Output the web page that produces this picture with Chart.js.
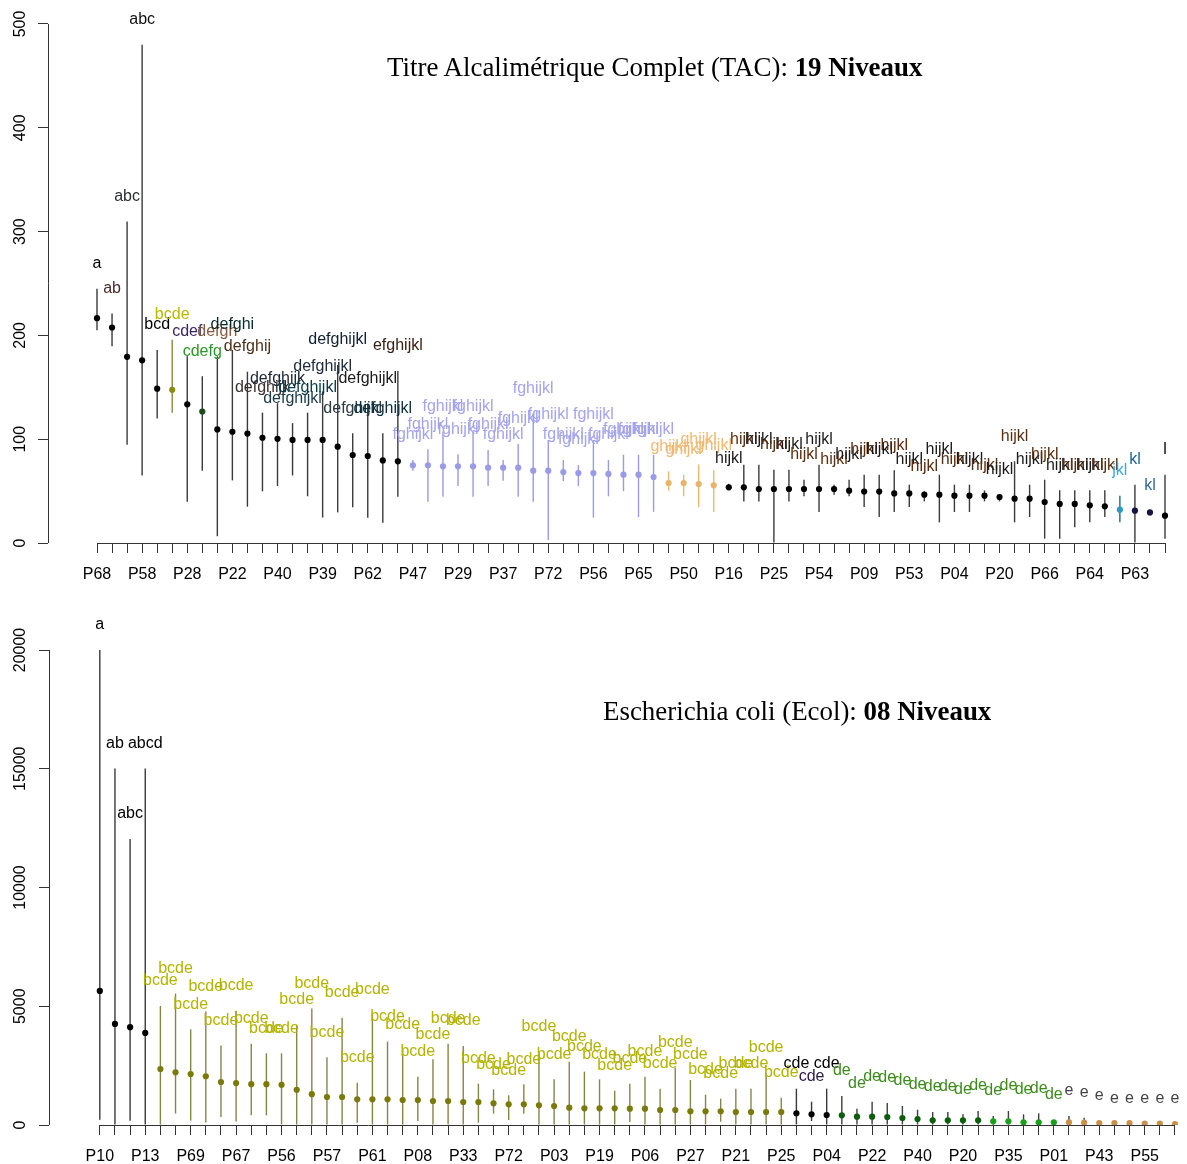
<!DOCTYPE html>
<html lang="fr">
<head>
<meta charset="UTF-8">
<title>TAC / Ecol</title>
<script src="https://cdn.jsdelivr.net/npm/chart.js"></script>
<style>
  body { margin: 0; background: #fff; width: 1187px; height: 1164px; position: relative; overflow: hidden; }
  canvas { position: absolute; left: 0; }
  #topChart { top: 0; }
  #bottomChart { top: 595px; }
  .title { position: absolute; font-family: "Liberation Serif", "Times New Roman", serif; font-size: 26.9px; line-height: 1; white-space: nowrap; color: #000; }
</style>
</head>
<body>
<canvas id="topChart" width="1187" height="595"></canvas>
<canvas id="bottomChart" width="1187" height="569"></canvas>
<div class="title" style="left:387px; top:54px;">Titre Alcalimétrique Complet (TAC): <b>19 Niveaux</b></div>
<div class="title" style="left:603px; top:698px;">Escherichia coli (Ecol): <b>08 Niveaux</b></div>

<script>
// ---- TAC panel data ----
const topXLabels = ['P68','P58','P28','P22','P40','P39','P62','P47','P29','P37','P72','P56',
                    'P65','P50','P16','P25','P54','P09','P53','P04','P20','P66','P64','P63'];
const topYTicks = [0, 100, 200, 300, 400, 500];
const topMean = [216.6, 207.6, 179.4, 176, 148.7, 147.6, 133.6, 126.7, 109.4, 107.2, 105.4, 101.4,
                 100.4, 99.3, 99.3, 99.3, 92.8, 84.8, 83.8, 79.6, 78.7, 74.8, 74.8, 73.9,
                 73.9, 73.9, 72.6, 72.6, 72.6, 69.7, 69.7, 68.4, 67.4, 67.4, 66.5, 65.8,
                 65.8, 63.6, 57.8, 57.8, 56.8, 55.6, 53.6, 53.6, 52, 52, 52, 52,
                 52, 52, 50.4, 49.5, 49.5, 47.8, 47.8, 46.6, 46.6, 45.6, 45.6, 45.6,
                 44.3, 42.7, 42.7, 39.5, 37.6, 37.6, 36.3, 35.3, 32.1, 31.1, 29.5, 26.3];
const topLow = [205, 189.5, 94.6, 65, 120, 125.6, 39.7, 69.7, 6.5, 60.3, 35, 49.8,
                54.9, 65, 45, 24.5, 29.5, 34.4, 24.4, 19.6, 44.6, 69.7, 39.8, 44.6,
                54.9, 44.6, 54.9, 60, 44.6, 39.8, 2.9, 59.7, 54.9, 24.4, 45, 50,
                25, 30, 50.4, 45, 34.7, 29.9, 51, 40.1, 40.1, 0, 40.1, 45,
                29.9, 46.6, 45, 34.7, 25, 29.9, 34.7, 40.1, 19.9, 29.9, 29.9, 40.1,
                40.1, 19.9, 25, 4.2, 4.2, 15.1, 19.9, 25, 19.9, 0, 26.7, 4.2];
const topHigh = [245, 221, 309.7, 480, 186, 195.7, 179.8, 160.6, 179.8, 186, 165, 125.6,
                 134.7, 115.5, 125.6, 146, 171.5, 105.7, 134.6, 105.7, 165.7, 80, 90.2, 107.3,
                 85.4, 107.3, 89.6, 80, 95.4, 125, 99.2, 80, 75.1, 99.2, 80, 85,
                 85, 85, 69, 65.8, 75.5, 70, 57, 75.5, 75.5, 70.6, 70.6, 61,
                 75.5, 56.2, 61, 65.8, 65.8, 70, 56.2, 49.8, 65.8, 56.2, 56.2, 50.7,
                 46.6, 78.7, 56.2, 61, 50.7, 50.7, 50.7, 50.7, 45.6, 56.2, 31, 65.8];
const topLetters = ['a','ab','abc','abc','bcd','bcde','cdef','cdefg','defgh','defghi','defghij','defghijk',
                    'defghijk','defghijkl','defghijkl','defghijkl','defghijkl','defghijkl','defghijkl','defghijkl','efghijkl','fghijkl','fghijkl','fghijkl',
                    'fghijkl','fghijkl','fghijkl','fghijkl','fghijkl','fghijkl','fghijkl','fghijkl','fghijkl','fghijkl','fghijkl','fghijkl',
                    'fghijkl','fghijkl','ghijkl','ghijkl','ghijkl','ghijkl','hijkl','hijkl','hijkl','hijkl','hijkl','hijkl',
                    'hijkl','hijkl','hijkl','hijkl','hijkl','hijkl','hijkl','hijkl','hijkl','hijkl','hijkl','hijkl',
                    'hijkl','hijkl','hijkl','hijkl','hijkl','hijkl','hijkl','hijkl','jkl','kl','kl','l'];

// ---- Ecol panel data ----
const botXLabels = ['P10','P13','P69','P67','P56','P57','P61','P08','P33','P72','P03','P19',
                    'P06','P27','P21','P25','P04','P22','P40','P20','P35','P01','P43','P55'];
const botYTicks = [0, 5000, 10000, 15000, 20000];
const botMean = [5644, 4255, 4120, 3878, 2354, 2218, 2143, 2052, 1811, 1766, 1720, 1720,
                 1690, 1479, 1298, 1179, 1179, 1081, 1081, 1081, 1053, 1053, 1011, 1011,
                 969, 969, 913, 870, 870, 828, 800, 730, 702, 702, 702, 688,
                 688, 632, 632, 576, 576, 576, 548, 548, 548, 548, 491, 449,
                 421, 407, 351, 351, 337, 295, 253, 197, 197, 197, 197, 154,
                 154, 112, 112, 112, 112, 98, 84, 84, 84, 56, 56, 42];
const botLow = [226, 0, 181, 0, 0, 483, 181, 106, 332, 151, 407, 407,
                0, 0, 0, 0, 0, 98, 0, 0, 0, 168, 0, 0,
                0, 98, 477, 211, 477, 0, 0, 0, 0, 0, 0, 126,
                0, 0, 0, 0, 0, 140, 0, 0, 0, 0, 0, 168,
                0, 0, 0, 0, 0, 0, 0, 0, 0, 0, 0, 0,
                0, 0, 0, 0, 0, 0, 0, 0, 0, 0, 0, 0];
const botHigh = [20000, 15015, 12042, 15015, 5010, 5538, 4029, 4784, 3350, 4814, 3425, 3018,
                 3018, 4225, 4904, 2850, 4521, 1783, 4661, 3510, 3187, 2036, 2766, 3426,
                 3327, 1741, 1502, 1250, 1713, 3089, 1923, 2668, 2246, 1923, 1446, 1741,
                 2036, 1530, 2415, 1895, 1278, 1109, 1530, 1530, 2204, 1151, 1530, 983,
                 1530, 1221, 688, 983, 927, 800, 645, 548, 548, 449, 590, 379,
                 590, 449, 491, 211, 379, 309, 168, 70, 70, 56, 56, 42];
const botLetters = ['a','ab','abc','abcd','bcde','bcde','bcde','bcde','bcde','bcde','bcde','bcde',
                    'bcde','bcde','bcde','bcde','bcde','bcde','bcde','bcde','bcde','bcde','bcde','bcde',
                    'bcde','bcde','bcde','bcde','bcde','bcde','bcde','bcde','bcde','bcde','bcde','bcde',
                    'bcde','bcde','bcde','bcde','bcde','bcde','bcde','bcde','bcde','bcde','cde','cde',
                    'cde','de','de','de','de','de','de','de','de','de','de','de',
                    'de','de','de','de','e','e','e','e','e','e','e','e'];

// ---- colours (by point number, 1-based) ----
function topDotColor(n) {
    if (n === 6) return '#8a8a10';
    if (n === 8) return '#1d4a1d';
    if (n >= 22 && n <= 38) return '#9a9ae6';
    if (n >= 39 && n <= 42) return '#e8b36e';
    if (n === 69) return '#2a9cc4';
    if (n === 70 || n === 71) return '#151545';
    return '#000000';
}
function topBarColor(n) {
    if (n === 6) return '#8a8a40';
    if (n >= 22 && n <= 38) return '#9a9ae6';
    if (n >= 39 && n <= 42) return '#ecb870';
    if (n === 69) return '#1a6a8a';
    return '#3a3a3a';
}
const topLabelPalette = {1:'#000', 2:'#4a2c2c', 3:'#2a3030', 4:'#111', 5:'#000', 6:'#b8b800', 7:'#3a2860',
    8:'#2e962e', 9:'#8a5a40', 10:'#0a2a2a', 11:'#4a3018', 12:'#3a3030', 13:'#202838', 14:'#1a3a4a',
    15:'#0a3a4a', 16:'#1a2a3a', 17:'#102030', 18:'#2a3a40', 19:'#1a1a1a', 20:'#0a3040', 21:'#3a2010',
    69:'#3aa8dc', 70:'#1f5f8f', 71:'#2a6aa0', 72:'#000'};
function topLabelColor(n) {
    if (topLabelPalette[n]) return topLabelPalette[n];
    if (n >= 22 && n <= 38) return '#a4a4ec';
    if (n >= 39 && n <= 42) return '#f0b870';
    return n % 2 ? '#1a1a1a' : '#5a2e10';
}
function botDotColor(n) {
    if (n >= 5 && n <= 46) return '#7a7a0a';
    if (n >= 50 && n <= 59) return '#0b5e0b';
    if (n >= 60 && n <= 64) return '#18a018';
    if (n >= 65) return '#c8904a';
    return '#000000';
}
function botBarColor(n) {
    if (n >= 5 && n <= 46) return '#85854a';
    if (n >= 50) return '#3a403a';
    return '#3a3a3a';
}
function botLabelColor(n) {
    if (n >= 5 && n <= 46) return '#b3b300';
    if (n === 48) return '#2a1a40';
    if (n >= 50 && n <= 64) return '#3c8c1c';
    if (n >= 65) return '#444444';
    return '#000000';
}

const SANS = '"Liberation Sans", Arial, sans-serif';

// R-like axes: lines only span the tick range, rotated y labels, letters above bars
const rAxesPlugin = {
    id: 'rAxes',
    afterDatasetsDraw(chart, args, opts) {
        const ctx = chart.ctx;
        const xs = chart.scales.x, ys = chart.scales.y;
        ctx.save();
        ctx.strokeStyle = '#333';
        ctx.lineWidth = 1;
        ctx.beginPath();
        ctx.moveTo(ys.right + 0.5, ys.getPixelForValue(opts.yTicks[0]));
        ctx.lineTo(ys.right + 0.5, ys.getPixelForValue(opts.yTicks[opts.yTicks.length - 1]));
        ctx.moveTo(xs.getPixelForValue(1), xs.top + 0.5);
        ctx.lineTo(xs.getPixelForValue(opts.high.length), xs.top + 0.5);
        ctx.stroke();

        ctx.fillStyle = '#000';
        ctx.font = '16px ' + SANS;
        ctx.textAlign = 'center';
        ctx.textBaseline = 'middle';
        opts.yTicks.forEach(v => {
            ctx.save();
            ctx.translate(21, ys.getPixelForValue(v));
            ctx.rotate(-Math.PI / 2);
            ctx.fillText(String(v), 0, 0);
            ctx.restore();
        });

        opts.letters.forEach((txt, i) => {
            ctx.fillStyle = opts.labelColor(i + 1);
            ctx.fillText(txt, xs.getPixelForValue(i + 1), ys.getPixelForValue(opts.high[i]) - 25);
        });
        ctx.restore();
    }
};

function makePanel(id, cfg) {
    const W = 1187;
    const spacing = (cfg.lastX - cfg.firstX) / (cfg.mean.length - 1);
    const xMin = 1 - (cfg.firstX - cfg.axisX) / spacing;
    const xMax = xMin + (cfg.rightX - cfg.axisX) / spacing;
    const pxPerUnit = (cfg.zeroY - cfg.topTickY) / cfg.yTicks[cfg.yTicks.length - 1];
    const yMax = (cfg.zeroY - cfg.areaTop) / pxPerUnit;
    const idx = cfg.mean.map((_, i) => i + 1);

    new Chart(document.getElementById(id), {
        type: 'scatter',
        data: {
            datasets: [{
                type: 'scatter',
                order: 0,
                data: idx.map(n => ({x: n, y: cfg.mean[n - 1]})),
                pointRadius: 3.1,
                pointBorderWidth: 0,
                pointBackgroundColor: idx.map(cfg.dotColor)
            }, {
                type: 'bar',
                order: 1,
                data: idx.map(n => ({x: n, y: [cfg.low[n - 1], cfg.high[n - 1]]})),
                barThickness: 1.4,
                inflateAmount: 0,
                backgroundColor: idx.map(cfg.barColor)
            }]
        },
        options: {
            responsive: false,
            animation: false,
            devicePixelRatio: 1,
            layout: { padding: { left: 0, top: cfg.areaTop, right: W - cfg.rightX, bottom: 0 } },
            plugins: {
                legend: { display: false },
                tooltip: { enabled: false },
                rAxes: { yTicks: cfg.yTicks, letters: cfg.letters, high: cfg.high, labelColor: cfg.labelColor }
            },
            scales: {
                x: {
                    type: 'linear',
                    offset: false,
                    min: xMin,
                    max: xMax,
                    border: { display: false },
                    grid: { offset: false, drawOnChartArea: false, drawTicks: true, tickLength: 10, color: '#333' },
                    afterBuildTicks: s => { s.ticks = idx.map(v => ({value: v})); },
                    afterFit: s => { s.height = cfg.canvasH - cfg.zeroY; },
                    ticks: {
                        autoSkip: false,
                        maxRotation: 0,
                        minRotation: 0,
                        padding: 12,
                        color: '#000',
                        font: { family: SANS, size: 16 },
                        callback: v => ((v - 1) % 3 === 0 ? cfg.xLabels[(v - 1) / 3] : '')
                    }
                },
                y: {
                    type: 'linear',
                    min: 0,
                    max: yMax,
                    border: { display: false },
                    grid: { drawOnChartArea: false, drawTicks: true, tickLength: 10, color: '#333' },
                    afterBuildTicks: s => { s.ticks = cfg.yTicks.map(v => ({value: v})); },
                    afterFit: s => { s.width = cfg.axisX; },
                    ticks: { display: false }
                }
            }
        },
        plugins: [rAxesPlugin]
    });
}

makePanel('topChart', {
    mean: topMean, low: topLow, high: topHigh, letters: topLetters,
    xLabels: topXLabels, yTicks: topYTicks,
    dotColor: topDotColor, barColor: topBarColor, labelColor: topLabelColor,
    canvasH: 595, axisX: 48, firstX: 97, lastX: 1165, rightX: 1180,
    zeroY: 543, topTickY: 24, areaTop: 5
});

makePanel('bottomChart', {
    mean: botMean, low: botLow, high: botHigh, letters: botLetters,
    xLabels: botXLabels, yTicks: botYTicks,
    dotColor: botDotColor, barColor: botBarColor, labelColor: botLabelColor,
    canvasH: 569, axisX: 49, firstX: 100, lastX: 1179, rightX: 1185,
    zeroY: 530, topTickY: 55, areaTop: 5
});
</script>
</body>
</html>
